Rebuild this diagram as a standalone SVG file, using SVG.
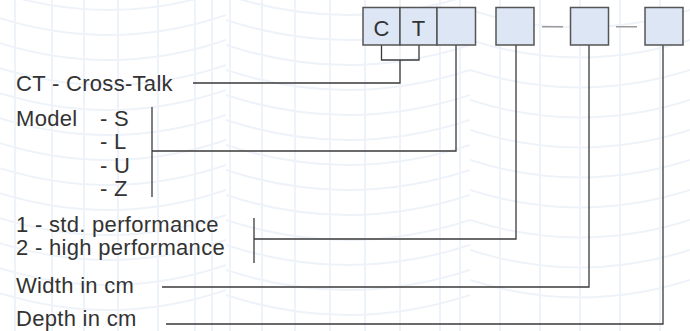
<svg xmlns="http://www.w3.org/2000/svg" width="690" height="331" viewBox="0 0 690 331">
<defs>
<style>
.bg{fill:none;stroke:#eef3fa;stroke-width:2}
.box{fill:#dce6f4;stroke:#555;stroke-width:1.5}
.lbl{font-family:"Liberation Sans",Arial,sans-serif;font-size:22px;fill:#333;letter-spacing:0.3px}
.cell{font-family:"Liberation Sans",Arial,sans-serif;font-size:22px;fill:#333;text-anchor:middle}
.con{fill:none;stroke:#3a3a3a;stroke-width:1.3}
.dash{fill:none;stroke:#9a9a9a;stroke-width:1.6}
</style>
<clipPath id="c1"><rect x="0" y="0" width="226" height="331"/></clipPath>
<clipPath id="c2"><rect x="226" y="0" width="244" height="331"/></clipPath>
<clipPath id="c3"><rect x="470" y="0" width="220" height="331"/></clipPath>
</defs>
<rect width="690" height="331" fill="#ffffff"/>
<g id="background">
<g clip-path="url(#c1)" class="bg">
<path d="M15 0V331M52 0V331M84 0V331M118 0V331M158 0V331M195 0V331M212 0V331"/>
<path d="M-10 -10Q110 30 226 -10M-10 15Q110 55 226 15M-10 40Q110 80 226 40M-10 65Q110 105 226 65M-10 90Q110 130 226 90M-10 115Q110 155 226 115M-10 140Q110 180 226 140M-10 165Q110 205 226 165M-10 190Q110 230 226 190M-10 215Q110 255 226 215M-10 240Q110 280 226 240M-10 265Q110 305 226 265M-10 290Q110 330 226 290"/>
</g>
<g clip-path="url(#c2)" class="bg">
<path d="M230 0V331M262 0V331M295 0V331M330 0V331M365 0V331M400 0V331M440 0V331M460 0V331"/>
<path d="M226 -5Q348 35 470 -5M226 20Q348 60 470 20M226 45Q348 85 470 45M226 70Q348 110 470 70M226 95Q348 135 470 95M226 120Q348 160 470 120M226 145Q348 185 470 145M226 170Q348 210 470 170M226 195Q348 235 470 195M226 220Q348 260 470 220M226 245Q348 285 470 245M226 270Q348 310 470 270M226 295Q348 335 470 295"/>
</g>
<g clip-path="url(#c3)" class="bg">
<path d="M500 0V331M540 0V331M580 0V331M620 0V331M660 0V331"/>
<path d="M470 10Q580 45 690 10M470 40Q580 75 690 40M470 70Q580 105 690 70M470 100Q580 135 690 100M470 130Q580 165 690 130M470 160Q580 195 690 160M470 190Q580 225 690 190M470 220Q580 255 690 220M470 250Q580 285 690 250M470 280Q580 315 690 280"/>
</g>
</g>
<g id="connectors">
<path class="con" d="M381.5 45V60H419V45"/>
<path class="con" d="M400 60V83H193"/>
<path class="con" d="M152 107V197"/>
<path class="con" d="M152 151H456V45"/>
<path class="con" d="M254 218V263"/>
<path class="con" d="M254 239H516V45"/>
<path class="con" d="M162 287H589V45"/>
<path class="con" d="M166 324H663V45"/>
<path class="dash" d="M542 26.7H563M616 26.7H637"/>
</g>
<g id="code-CT">
<rect class="box" x="363" y="7.5" width="37" height="37.5"/>
<text class="cell" x="381.5" y="35.5">C</text>
<rect class="box" x="400" y="7.5" width="37" height="37.5"/>
<text class="cell" x="418.5" y="35.5">T</text>
</g>
<g id="code-model"><rect class="box" x="437" y="7.5" width="38.5" height="37.5"/></g>
<g id="code-performance"><rect class="box" x="496" y="7.5" width="38" height="37.5"/></g>
<g id="code-width"><rect class="box" x="570.5" y="7.5" width="38" height="37.5"/></g>
<g id="code-depth"><rect class="box" x="645" y="7.5" width="38" height="37.5"/></g>
<g id="label-ct"><text class="lbl" x="16" y="91">CT - Cross-Talk</text></g>
<g id="label-model">
<text class="lbl" x="16" y="125.5">Model</text>
<text class="lbl" x="100" y="125.5">- S</text>
<text class="lbl" x="100" y="149">- L</text>
<text class="lbl" x="100" y="172.5">- U</text>
<text class="lbl" x="100" y="196">- Z</text>
</g>
<g id="label-performance">
<text class="lbl" x="16" y="232">1 - std. performance</text>
<text class="lbl" x="16" y="255">2 - high performance</text>
</g>
<g id="label-width"><text class="lbl" x="16" y="292.5">Width in cm</text></g>
<g id="label-depth"><text class="lbl" x="16" y="326">Depth in cm</text></g>
</svg>
